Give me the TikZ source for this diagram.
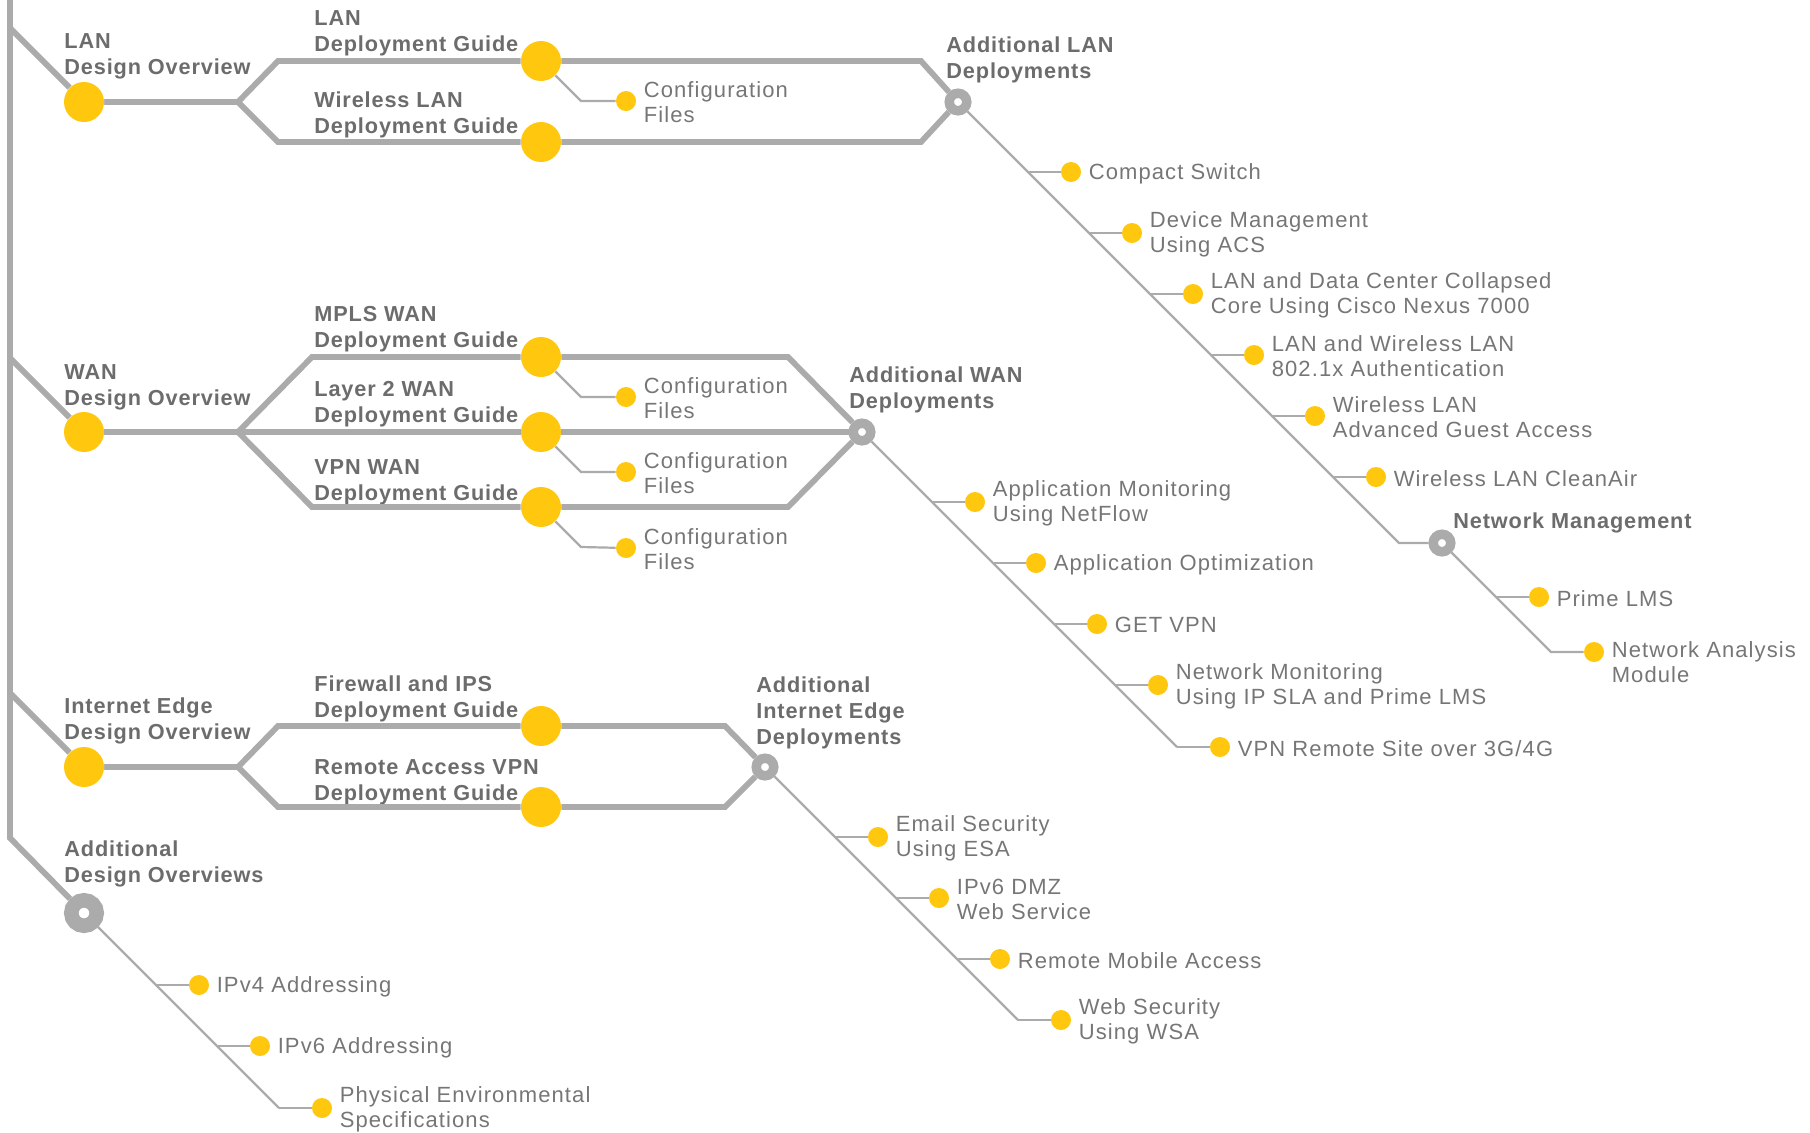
\documentclass[tikz,border=0pt]{standalone}
\usepackage{fontspec}
\setmainfont{Liberation Sans}[LetterSpace=5,BoldFeatures={LetterSpace=4}]
\usetikzlibrary{positioning,calc}
\definecolor{lineGray}{RGB}{170,171,170}
\definecolor{dotYellow}{RGB}{255,199,14}
\definecolor{textGray}{RGB}{118,118,118}
\definecolor{headGray}{RGB}{108,108,108}

\begin{document}
\begin{tikzpicture}[x=0.5pt,y=-0.5pt,
    trunk/.style={lineGray,line width=2.9pt},
    twig/.style={lineGray,line width=1.1pt},
    guide/.style={circle,fill=dotYellow,inner sep=0pt,minimum size=20pt},
    leaf/.style={circle,fill=dotYellow,inner sep=0pt,minimum size=10pt},
    hub/.style={circle,draw=lineGray,fill=white,line width=4.75pt,inner sep=0pt,minimum size=8.75pt},
    bighub/.style={hub,line width=7.25pt,minimum size=12.75pt},
    head/.style={anchor=west,inner sep=0pt,align=left,yshift=-1pt,text=headGray,font=\fontsize{10.85}{13}\selectfont\bfseries},
    item/.style={inner sep=0pt,align=left,yshift=-0.7pt,text=textGray,font=\fontsize{11}{12.5}\selectfont}]
  \useasboundingbox (0,0) rectangle (1810,1132);

  \coordinate (spineTop) at (10,0);
  \coordinate (spineBend) at (10,838);
  \coordinate (lanJoin) at (10,28);
  \coordinate (wanJoin) at (10,358);
  \coordinate (ieJoin) at (10,693);
  \coordinate (lanFork) at (238,102);
  \coordinate (wanFork) at (238,432);
  \coordinate (ieFork) at (238,767);

  \node[guide] (lanDO) at (84,102) {};
  \node[guide] (wanDO) at (84,432) {};
  \node[guide] (ieDO) at (84,767) {};
  \node[bighub] (addDO) at (84,913) {};
  \node[head] (lanDOText) at (64,54) {LAN\\Design Overview};
  \node[head] (wanDOText) at (64,385) {WAN\\Design Overview};
  \node[head] (ieDOText) at (64,719) {Internet Edge\\Design Overview};
  \node[head] (addDOText) at (64,862) {Additional\\Design Overviews};

  \node[guide] (lanDG) at (541,61) {};
  \node[guide] (wlanDG) at (541,142) {};
  \node[guide] (mplsDG) at (541,357) {};
  \node[guide] (l2DG) at (541,432) {};
  \node[guide] (vpnDG) at (541,507) {};
  \node[guide] (fwDG) at (541,726) {};
  \node[guide] (ravpnDG) at (541,807) {};
  \node[head] (lanDGText) at (314,31) {LAN\\Deployment Guide};
  \node[head] (wlanDGText) at (314,113) {Wireless LAN\\Deployment Guide};
  \node[head] (mplsDGText) at (314,327) {MPLS WAN\\Deployment Guide};
  \node[head] (l2DGText) at (314,402) {Layer 2 WAN\\Deployment Guide};
  \node[head] (vpnDGText) at (314,480) {VPN WAN\\Deployment Guide};
  \node[head] (fwDGText) at (314,697) {Firewall and IPS\\Deployment Guide};
  \node[head] (ravpnDGText) at (314,780) {Remote Access VPN\\Deployment Guide};

  \node[hub] (addLAN) at (958,102) {};
  \node[hub] (addWAN) at (862,432) {};
  \node[hub] (addIE) at (765,767) {};
  \node[hub] (netMgmt) at (1442,543) {};
  \node[head] (addLANText) at (946,58) {Additional LAN\\Deployments};
  \node[head] (addWANText) at (849,388) {Additional WAN\\Deployments};
  \node[head] (addIEText) at (756,711) {Additional\\Internet Edge\\Deployments};
  \node[head] (netMgmtText) at (1453,521) {Network Management};

  \node[leaf] (lanCF) at ($(lanDG)+(85,40)$) {};
  \node[leaf] (mplsCF) at ($(mplsDG)+(85,40)$) {};
  \node[leaf] (l2CF) at ($(l2DG)+(85,40)$) {};
  \node[leaf] (vpnCF) at ($(vpnDG)+(85,41)$) {};
  \foreach \cf in {lanCF,mplsCF,l2CF,vpnCF}
    \node[item,right=3.5pt of \cf] (\cf Text) {Configuration\\Files};

  \draw[trunk] (spineTop) -- (spineBend) -- (addDO);
  \draw[trunk] (lanJoin) -- (lanDO) -- (lanFork) -- ++(40,-41) -- (lanDG) -- ($(addLAN)+(-37,-41)$) -- (addLAN);
  \draw[trunk] (lanDO) -- (lanFork) -- ++(40,40) -- (wlanDG) -- ($(addLAN)+(-37,40)$) -- (addLAN);
  \draw[trunk] (wanJoin) -- (wanDO) -- (wanFork) -- ++(74,-75) -- (mplsDG) -- ($(addWAN)+(-74,-75)$) -- (addWAN);
  \draw[trunk] (wanDO) -- (wanFork) -- (l2DG) -- (addWAN);
  \draw[trunk] (wanDO) -- (wanFork) -- ++(74,75) -- (vpnDG) -- ($(addWAN)+(-74,75)$) -- (addWAN);
  \draw[trunk] (ieJoin) -- (ieDO) -- (ieFork) -- ++(40,-41) -- (fwDG) -- ($(addIE)+(-40,-41)$) -- (addIE);
  \draw[trunk] (ieDO) -- (ieFork) -- ++(40,40) -- (ravpnDG) -- ($(addIE)+(-40,40)$) -- (addIE);

  \foreach \g/\cf in {lanDG/lanCF,mplsDG/mplsCF,l2DG/l2CF,vpnDG/vpnCF}
    \draw[twig] (\g) -- ($(\g)+(40,40)$) -- (\cf);

  \foreach \d/\txt [count=\i] in {70/Compact Switch,131/{Device Management\\Using ACS},
      192/{LAN and Data Center Collapsed\\Core Using Cisco Nexus 7000},
      253/{LAN and Wireless LAN\\802.1x Authentication},314/{Wireless LAN\\Advanced Guest Access},
      375/Wireless LAN CleanAir}{
    \node[leaf] (lanLeaf\i) at ($(addLAN)+(\d+43,\d)$) {};
    \node[item,right=3.5pt of lanLeaf\i] (lanLeafText\i) {\txt};
    \draw[twig] ($(addLAN)+(\d,\d)$) -- (lanLeaf\i);
  }
  \draw[twig] (addLAN) -- ($(addLAN)+(441,441)$) -- (netMgmt);

  \node[leaf] (nmLeaf1) at ($(netMgmt)+(97,54)$) {};
  \node[leaf] (nmLeaf2) at ($(netMgmt)+(152,109)$) {};
  \node[item,right=3.5pt of nmLeaf1] (nmLeafText1) {Prime LMS};
  \node[item,right=3.5pt of nmLeaf2,yshift=-4.5pt] (nmLeafText2) {Network Analysis\\Module};
  \draw[twig] (netMgmt) -- ($(netMgmt)+(109,109)$) -- (nmLeaf2);
  \draw[twig] ($(netMgmt)+(54,54)$) -- (nmLeaf1);

  \foreach \d/\txt [count=\i] in {70/{Application Monitoring\\Using NetFlow},131/Application Optimization,
      192/GET VPN,253/{Network Monitoring\\Using IP SLA and Prime LMS},315/{VPN Remote Site over 3G/4G}}{
    \node[leaf] (wanLeaf\i) at ($(addWAN)+(\d+43,\d)$) {};
    \node[item,right=3.5pt of wanLeaf\i] (wanLeafText\i) {\txt};
    \draw[twig] ($(addWAN)+(\d,\d)$) -- (wanLeaf\i);
  }
  \draw[twig] (addWAN) -- ($(addWAN)+(315,315)$);

  \foreach \d/\txt [count=\i] in {70/{Email Security\\Using ESA},131/{IPv6 DMZ\\Web Service},
      192/Remote Mobile Access,253/{Web Security\\Using WSA}}{
    \node[leaf] (ieLeaf\i) at ($(addIE)+(\d+43,\d)$) {};
    \node[item,right=3.5pt of ieLeaf\i] (ieLeafText\i) {\txt};
    \draw[twig] ($(addIE)+(\d,\d)$) -- (ieLeaf\i);
  }
  \draw[twig] (addIE) -- ($(addIE)+(253,253)$);

  \foreach \d/\txt [count=\i] in {72/IPv4 Addressing,133/IPv6 Addressing,
      195/{Physical Environmental\\Specifications}}{
    \node[leaf] (addLeaf\i) at ($(addDO)+(\d+43,\d)$) {};
    \node[item,right=3.5pt of addLeaf\i] (addLeafText\i) {\txt};
    \draw[twig] ($(addDO)+(\d,\d)$) -- (addLeaf\i);
  }
  \draw[twig] (addDO) -- ($(addDO)+(195,195)$);
\end{tikzpicture}
\end{document}
